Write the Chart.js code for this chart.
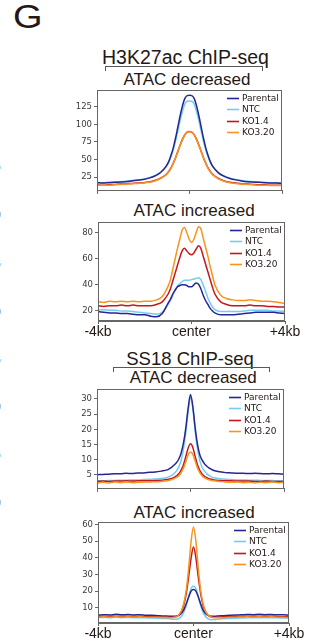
<!DOCTYPE html>
<html>
<head>
<meta charset="utf-8">
<script src="https://cdn.jsdelivr.net/npm/chart.js@4"></script>
<style>
  body { margin: 0; background: #fff; width: 329px; height: 644px; overflow: hidden; position: relative;
         font-family: "Liberation Sans", Arial, sans-serif; color: #231815; }
  .t { position: absolute; white-space: nowrap; transform: translateX(-50%); line-height: 1; }
  .br { position: absolute; border: 1px solid #595757; border-bottom: none; height: 4px; }
  .edge { position: absolute; left: -4px; font: 8px "DejaVu Sans", sans-serif; color: #8a8a8a; line-height: 1; }
  canvas { position: absolute; }
</style>
</head>
<body>
<div style="position:absolute;left:13px;top:0px;font-size:33px;line-height:1;transform:scaleX(1.15);transform-origin:left top">G</div>

<div class="t" style="left:185.5px;top:47.5px;font-size:19.5px">H3K27ac ChIP-seq</div>
<div class="br" style="left:105px;top:66px;width:156px"></div>
<div class="t" style="left:187px;top:70.6px;font-size:17px">ATAC decreased</div>
<div class="t" style="left:194px;top:202px;font-size:17px">ATAC increased</div>

<div class="t" style="left:190px;top:349.5px;font-size:18.5px">SS18 ChIP-seq</div>
<div class="br" style="left:113px;top:366.5px;width:155px"></div>
<div class="t" style="left:193.3px;top:369px;font-size:17px">ATAC decreased</div>
<div class="t" style="left:194px;top:504px;font-size:17px">ATAC increased</div>

<div class="edge" style="top:164px">5</div>
<div class="edge" style="top:212px">0</div>
<div class="edge" style="top:261px">5</div>
<div class="edge" style="top:309px">0</div>
<div class="edge" style="top:357px">5</div>
<div class="edge" style="top:404px">0</div>
<div class="edge" style="top:452px">5</div>
<div class="edge" style="top:500px">0</div>

<script>
// posiciones en kb respecto al centro del pico
const positionsKb = [-4, -3.75, -3.5, -3.25, -3, -2.75, -2.5, -2.25, -2, -1.75, -1.5, -1.25, -1,
  -0.9, -0.8, -0.7, -0.6, -0.5, -0.4, -0.3, -0.2, -0.1, 0, 0.1, 0.2, 0.3, 0.4, 0.5, 0.6, 0.7, 0.8, 0.9,
  1, 1.25, 1.5, 1.75, 2, 2.25, 2.5, 2.75, 3, 3.25, 3.5, 3.75, 4];

const seriesNames = ["Parental", "NTC", "KO1.4", "KO3.20"];
const seriesColors = ["#262692", "#72cdf4", "#c4161c", "#f7941d"];
const xTickValues = [-4, 0, 4];
const xTickLabels = ["-4kb", "center", "+4kb"];

// --- H3K27ac ChIP-seq, ATAC decreased ---
const h3DecTicks = [25, 50, 75, 100, 125];
const h3DecParental = [17, 16.5, 17, 17.5, 18, 18.5, 19.5, 20.5, 21.5, 23.5, 26.5, 31.5, 41,
  47, 56, 67, 81, 97, 113, 127, 137, 141, 141.5, 141, 137, 127, 113, 97, 81, 67, 56, 47,
  40.5, 31, 26, 23, 21, 19.5, 18.5, 18, 17.5, 17, 16.5, 16.5, 16];
const h3DecNTC = [17.5, 17, 17.5, 18, 18.5, 19, 20, 21, 22, 24, 27, 32, 40,
  46, 54, 64, 77, 91, 106, 119, 129, 133, 133.5, 133, 129, 119, 106, 91, 77, 64, 54, 46,
  40, 31.5, 26.5, 23.5, 21.5, 20, 19, 18.5, 18, 17.5, 17, 17, 16.5];
const h3DecKO14 = [14, 13.5, 14, 14.5, 15, 15.5, 16, 16.5, 17, 18, 20, 23.5, 29,
  33, 38, 45, 53, 62, 71, 79, 85.5, 89, 90, 89, 85.5, 79, 71, 62, 53, 45, 38, 33,
  29, 23, 19.5, 17.5, 16.5, 15.5, 15, 14.5, 14, 14, 13.5, 13.5, 13.5];
const h3DecKO320 = [13.5, 13.5, 13.5, 14, 14.5, 15, 15.5, 16, 16.5, 17.5, 19.5, 23, 28.5,
  32.5, 37.5, 44.5, 52.5, 61.5, 70.5, 78.5, 85, 88.5, 89.5, 88.5, 85, 78.5, 70.5, 61.5, 52.5, 44.5, 37.5, 32.5,
  28.5, 22.5, 19, 17, 16, 15, 14.5, 14, 13.5, 13.5, 13, 13, 13];

// --- H3K27ac ChIP-seq, ATAC increased ---
const h3IncTicks = [20, 40, 60, 80];
const h3IncParental = [19.5, 19, 18.5, 18.5, 18, 18, 17.5, 17, 17, 16, 15.5, 18, 26,
  29, 33, 36, 38.5, 39.5, 40, 40, 39.5, 38.5, 38.5, 40, 41.5, 40.5, 37, 32, 28, 25, 22, 20,
  18.5, 17, 17, 17, 17.5, 18, 18.5, 19, 19, 19, 19, 18.5, 18];
const h3IncNTC = [21, 21, 20.5, 20.5, 20, 20, 19.5, 19, 18.5, 18, 17.5, 19, 25,
  28, 32, 36, 39, 41, 42.5, 43.5, 43.5, 43.5, 44, 44.5, 45, 45.5, 44, 40, 35, 30, 26, 23,
  21, 19.5, 19.5, 19.5, 19.5, 20, 20.5, 20.5, 20.5, 20.5, 20, 20, 19.5];
const h3IncKO14 = [24, 23.5, 24, 24, 24.5, 24, 24.5, 24, 24, 24, 25, 27, 33,
  37, 43, 49, 55, 61, 66, 68, 66, 64, 63, 64.5, 67.5, 70, 68, 62, 56, 50, 44, 38,
  33, 27, 25, 24, 24, 24, 24.5, 24, 24, 23.5, 23.5, 23, 23];
const h3IncKO320 = [27, 26.5, 27.5, 27, 27.5, 27, 27.5, 27, 27.5, 27.5, 28.5, 31, 39,
  44, 52, 60, 68, 75, 82, 84, 80, 75, 72.5, 75, 80, 84.5, 83, 76, 69, 62, 54, 47,
  40, 32, 29.5, 28.5, 28, 28, 28.5, 28, 27.5, 27.5, 27, 26.5, 25.5];

// --- SS18 ChIP-seq, ATAC decreased ---
const ssDecTicks = [5, 10, 15, 20, 25, 30];
const ssDecParental = [5, 5.1, 5.2, 5.3, 5.3, 5.5, 5.4, 5.6, 5.6, 5.8, 5.9, 6.2, 6.6,
  7, 7.5, 8.2, 9, 10.2, 12.2, 15.5, 20.5, 27, 31.5, 27.5, 20.5, 15, 11.5, 9.8, 8.6, 7.8, 7.2, 6.8,
  6.4, 6, 5.7, 5.6, 5.5, 5.5, 5.4, 5.5, 5.4, 5.3, 5.4, 5.3, 5.2];
const ssDecNTC = [3, 3, 3.1, 3.1, 3.2, 3.2, 3.3, 3.3, 3.4, 3.5, 3.6, 3.8, 4.1,
  4.4, 4.8, 5.4, 6.3, 7.6, 9.8, 13.5, 19, 26, 30.5, 27, 19.5, 13.5, 9.6, 7.4, 6.2, 5.3, 4.7, 4.3,
  4, 3.7, 3.5, 3.4, 3.3, 3.3, 3.2, 3.2, 3.1, 3.1, 3.1, 3, 3];
const ssDecKO14 = [2.8, 2.9, 2.8, 2.9, 2.9, 3, 2.9, 3, 3, 3, 3.1, 3.2, 3.4,
  3.6, 3.8, 4.1, 4.6, 5.3, 6.5, 8.3, 11, 13.8, 15.2, 14, 11, 8.2, 6.4, 5.2, 4.5, 4, 3.7, 3.5,
  3.3, 3.1, 3, 3, 2.9, 2.9, 2.9, 2.8, 2.8, 2.9, 2.8, 2.8, 2.7];
const ssDecKO320 = [2.3, 2.5, 2.3, 2.6, 2.4, 2.6, 2.4, 2.5, 2.6, 2.6, 2.7, 2.8, 3,
  3.2, 3.4, 3.7, 4.1, 4.7, 5.7, 7.2, 9.4, 11.6, 12.5, 11.7, 9.5, 7.2, 5.6, 4.6, 4, 3.6, 3.3, 3.1,
  3, 2.8, 2.6, 2.5, 2.6, 2.4, 2.5, 2.3, 2.5, 2.4, 2.6, 2.4, 2.5];

// --- SS18 ChIP-seq, ATAC increased ---
const ssIncTicks = [10, 20, 30, 40, 50, 60];
const ssIncParental = [5.5, 5.8, 5.6, 6, 5.7, 5.9, 5.6, 5.8, 5.5, 5.4, 5.2, 5, 4.9,
  4.8, 4.8, 5, 5.5, 6.8, 9, 12.5, 16.5, 20, 21, 20, 16.5, 12.3, 8.7, 6.5, 5.4, 4.9, 4.8, 4.9,
  5, 5.2, 5.4, 5.6, 5.7, 5.9, 5.8, 6, 5.8, 5.9, 5.7, 5.8, 5.5];
const ssIncNTC = [4, 4.1, 4, 4.2, 4, 4.1, 4, 4, 3.9, 3.8, 3.7, 3.5, 3.3,
  3.1, 3, 3.1, 3.6, 5, 7.5, 11.5, 17, 21.5, 23, 21.5, 17, 11.3, 7.2, 4.7, 3.4, 2.9, 2.8, 2.9,
  3, 3.3, 3.5, 3.7, 3.8, 3.9, 3.9, 4, 3.9, 4, 3.9, 3.8, 3.7];
const ssIncKO14 = [4.6, 4.8, 4.7, 4.9, 4.8, 4.8, 4.7, 4.8, 4.6, 4.6, 4.5, 4.4, 4.3,
  4.3, 4.4, 4.8, 5.8, 8, 12, 19, 29, 40, 46.5, 40, 28.5, 18.5, 11.5, 7.6, 5.6, 4.7, 4.3, 4.2,
  4.3, 4.5, 4.6, 4.7, 4.8, 4.9, 4.8, 4.9, 4.8, 4.9, 4.7, 4.6, 4.5];
const ssIncKO320 = [4.3, 4.5, 4.3, 4.5, 4.4, 4.5, 4.4, 4.5, 4.3, 4.3, 4.2, 4.1, 4,
  4, 4.2, 4.7, 6, 8.5, 13, 21, 34, 50, 58.6, 50, 33.5, 20.5, 12.5, 8, 5.7, 4.6, 4.1, 3.9,
  3.9, 4, 4.2, 4.3, 4.4, 4.5, 4.4, 4.5, 4.4, 4.5, 4.3, 4.2, 4.1];

// cada panel: área del gráfico en la página (px) y sus datos
const panels = [
  { l: 97, t: 90, r: 282, b: 192, showX: false, yMin: 5.3, yMax: 149, yTicks: h3DecTicks,
    series: [h3DecParental, h3DecNTC, h3DecKO14, h3DecKO320] },
  { l: 98, t: 222, r: 285, b: 321, showX: true, yMin: 12.3, yMax: 88.2, yTicks: h3IncTicks,
    series: [h3IncParental, h3IncNTC, h3IncKO14, h3IncKO320] },
  { l: 97, t: 389, r: 284, b: 490, showX: false, yMin: 0.33, yMax: 33.3, yTicks: ssDecTicks,
    series: [ssDecParental, ssDecNTC, ssDecKO14, ssDecKO320] },
  { l: 98, t: 522, r: 289, b: 623, showX: true, yMin: 0.8, yMax: 61.6, yTicks: ssIncTicks,
    series: [ssIncParental, ssIncNTC, ssIncKO14, ssIncKO320] },
];

const AXIS_COLOR = "#666";
const CANVAS_LEFT = 40;
const PAD_TOP = 8;
const PAD_RIGHT = 32;

// marco completo alrededor del área del gráfico
const framePlugin = {
  id: "frame",
  afterDatasetsDraw(chart) {
    const { ctx, chartArea: a } = chart;
    ctx.save();
    ctx.strokeStyle = AXIS_COLOR;
    ctx.lineWidth = 1;
    ctx.strokeRect(Math.round(a.left) + 0.5, Math.round(a.top) + 0.5,
      Math.round(a.right - a.left) - 1, Math.round(a.bottom - a.top) - 1);
    ctx.restore();
  },
};

// leyenda dentro del área, arriba a la derecha
const insideLegend = {
  id: "insideLegend",
  afterDraw(chart) {
    const { ctx, chartArea: a } = chart;
    ctx.save();
    ctx.font = '9px "DejaVu Sans"';
    ctx.textBaseline = "middle";
    chart.data.datasets.forEach((ds, i) => {
      const y = Math.round(a.top + 8 + i * 11.3) + 0.5;
      const x = a.right - 55;
      ctx.strokeStyle = ds.borderColor;
      ctx.lineWidth = 1.6;
      ctx.beginPath();
      ctx.moveTo(x, y);
      ctx.lineTo(x + 12, y);
      ctx.stroke();
      ctx.fillStyle = "#231815";
      ctx.fillText(ds.label, x + 15, y + 0.5);
    });
    ctx.restore();
  },
};

const drawOrder = [2, 3, 1, 0]; // KO3.20 encima de KO1.4

panels.forEach((p) => {
  const xh = p.showX ? 21 : 6;
  const canvas = document.createElement("canvas");
  canvas.width = p.r + PAD_RIGHT - CANVAS_LEFT;
  canvas.height = p.b - p.t + PAD_TOP + xh;
  canvas.style.left = CANVAS_LEFT + "px";
  canvas.style.top = p.t - PAD_TOP + "px";
  document.body.appendChild(canvas);

  new Chart(canvas, {
    type: "line",
    data: {
      datasets: p.series.map((vals, i) => ({
        label: seriesNames[i],
        data: positionsKb.map((x, j) => ({ x, y: vals[j] })),
        borderColor: seriesColors[i],
        borderWidth: 1.5,
        pointRadius: 0,
        cubicInterpolationMode: "monotone",
        order: drawOrder[i],
      })),
    },
    options: {
      responsive: false,
      animation: false,
      layout: { padding: { top: PAD_TOP, right: PAD_RIGHT, left: 0, bottom: 0 } },
      plugins: { legend: { display: false }, tooltip: { enabled: false } },
      scales: {
        x: {
          type: "linear",
          min: -4,
          max: 4,
          afterBuildTicks: (s) => { s.ticks = xTickValues.map((v) => ({ value: v })); },
          afterFit: (s) => { s.height = xh; },
          grid: { drawOnChartArea: false, drawTicks: true, tickLength: 3, color: AXIS_COLOR },
          border: { display: true, color: AXIS_COLOR, width: 1 },
          ticks: {
            display: p.showX,
            autoSkip: false,
            maxRotation: 0,
            padding: 0,
            color: "#231815",
            font: { family: "Liberation Sans", size: 14 },
            callback: (v) => xTickLabels[xTickValues.indexOf(v)],
          },
        },
        y: {
          min: p.yMin,
          max: p.yMax,
          afterBuildTicks: (s) => { s.ticks = p.yTicks.map((v) => ({ value: v })); },
          afterFit: (s) => { s.width = p.l - CANVAS_LEFT; },
          grid: { drawOnChartArea: false, drawTicks: true, tickLength: 3, color: AXIS_COLOR },
          border: { display: true, color: AXIS_COLOR, width: 1 },
          ticks: {
            padding: 2,
            color: "#3e3a39",
            font: { family: "DejaVu Sans", size: 8.5 },
          },
        },
      },
    },
    plugins: [framePlugin, insideLegend],
  });
});
</script>
</body>
</html>
